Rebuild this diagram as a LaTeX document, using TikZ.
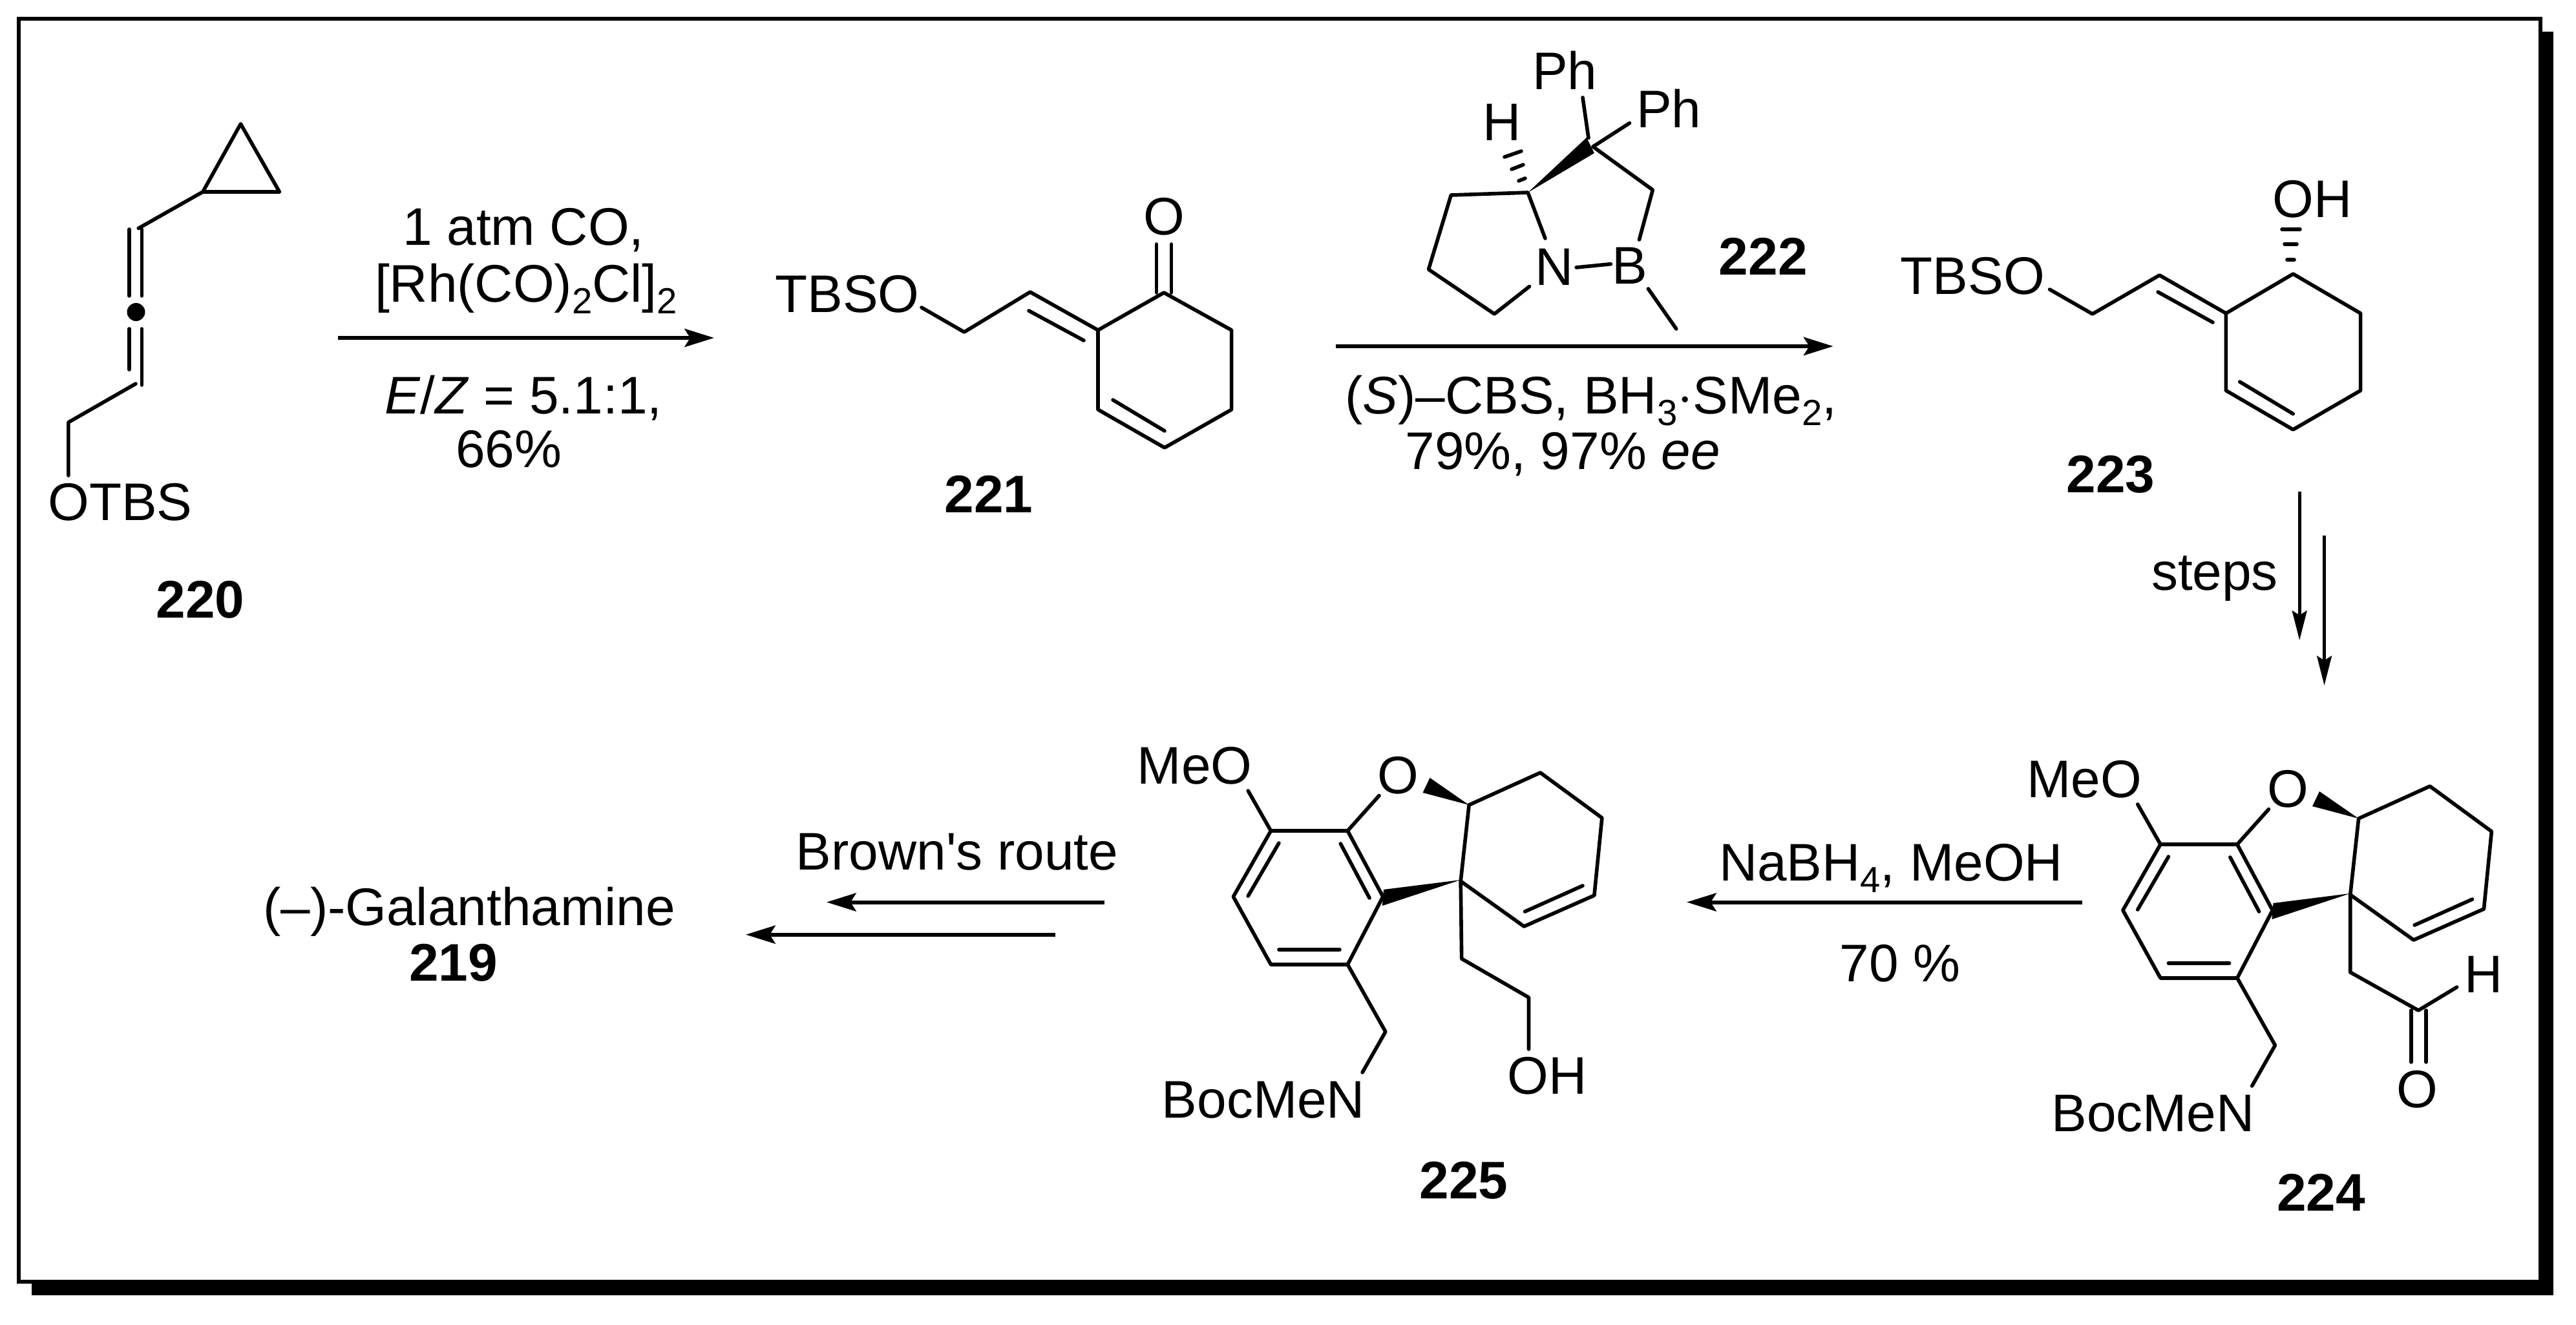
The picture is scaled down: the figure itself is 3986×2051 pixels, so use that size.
\documentclass[tikz,border=0pt]{standalone}
\usepackage{fontspec}
\setmainfont{Liberation Sans}[Ligatures=TeXOff]
\usetikzlibrary{arrows.meta}
\newcommand{\chemsub}[1]{\raisebox{-0.22em}{\fontsize{16}{16}\selectfont #1}}
\tikzset{
  bond/.style={line width=1.6pt,line cap=round,line join=round},
  hashbar/.style={line width=1.6pt,line cap=round},
  wedgefill/.style={fill=black,draw=none},
  lbl/.style={inner sep=0pt,anchor=base,font=\fontsize{23.3}{27}\selectfont,text=black},
  cmpd/.style={lbl,font=\fontsize{23.3}{27}\selectfont\bfseries},
  rxn/.style={line width=1.7pt,-{Stealth[length=13pt,width=8pt,inset=2.5pt]}},
  rxnthin/.style={line width=1.3pt,-{Stealth[length=13pt,width=6.5pt,inset=2pt]}}
}
% galanthamine core, shared by 224 and 225
\newcommand{\galcore}[1]{%
  \node[lbl] (#1meo) at (3231,1234) {MeO};
  \node[lbl] (#1o) at (3548,1249) {O};
  \node[lbl] (#1n) at (3338,1751) {BocMeN};
  \draw[bond] (3314,1245) -- (3349.5,1307);
  \draw[bond] (3349.5,1307) -- (3469,1307) -- (3524,1409) -- (3469,1514) -- (3349.5,1514) -- (3291,1409) -- cycle;
  \draw[bond] (3362,1326) -- (3314,1408);
  \draw[bond] (3458,1327) -- (3503,1411);
  \draw[bond] (3362,1491) -- (3456.6,1491);
  \draw[bond] (3469,1307) -- (3518,1252.6);
  \fill[wedgefill] (3658,1267) -- (3597,1225) -- (3586,1248) -- cycle;
  \draw[bond] (3645,1385) -- (3658,1267) -- (3769,1217) -- (3865,1287) -- (3853,1407) -- (3743.6,1455) -- cycle;
  \draw[bond] (3835,1392) -- (3745,1432);
  \fill[wedgefill] (3645,1383) -- (3525,1398) -- (3523,1423) -- cycle;
  \draw[bond] (3469,1514) -- (3528,1618) -- (3492,1681);
}
\begin{document}
\begin{tikzpicture}[x=0.01cm,y=-0.01cm]
\useasboundingbox (0,0) rectangle (3986,2051);
\fill[white] (0,0) rectangle (3986,2051);
% frame and shadow
\fill[black] (3931,49) rectangle (3951,2005);
\fill[black] (49,1984) rectangle (3951,2005);
\draw[line width=1.7pt,fill=white] (29,29) rectangle (3931,1984);

% 220
\draw[bond] (372.4,191.8) -- (432.4,297) -- (313.8,297) -- cycle;
\draw[bond] (313.8,297) -- (214.3,353.4);
\draw[bond] (200,355) -- (200,458);
\draw[bond] (219.4,355) -- (219.4,458);
\fill (210.5,483) ellipse (14 and 14);
\draw[bond] (200,509) -- (200,572);
\draw[bond] (219.4,509) -- (219.4,596);
\draw[bond] (210,594) -- (105.9,653.7) -- (105.9,736);
\node[lbl] (otbs) at (186,805) {OTBS};
\node[cmpd] (c220) at (310,956) {220};

% arrow 1
\coordinate (a1s) at (523,523);
\coordinate (a1e) at (1105,523);
\draw[rxn] (a1s) -- (a1e);
\node[lbl] (r1a) at (810,379) {1 atm CO,};
\node[lbl] (r1b) at (814,467) {[Rh(CO)\chemsub{2}Cl]\chemsub{2}};
\node[lbl] (r1c) at (810,640) {\textit{E}/\textit{Z} = 5.1:1,};
\node[lbl] (r1d) at (787,723) {66\%};

% 221
\node[lbl] (tbso1) at (1311,483) {TBSO};
\node[lbl] (o221) at (1801,363) {O};
\draw[bond] (1789.5,378) -- (1789.5,453);
\draw[bond] (1812.5,378) -- (1812.5,453);
\draw[bond] (1801,453) -- (1905.6,511) -- (1905.6,634) -- (1802,693) -- (1699,634) -- (1699,511) -- cycle;
\draw[bond] (1722,619) -- (1802,667);
\draw[bond] (1699,511) -- (1594,452) -- (1492,514) -- (1426,476);
\draw[bond] (1592,481) -- (1677,527);
\node[cmpd] (c221) at (1530,793) {221};

% everything measured with the right-hand crops
\begin{scope}[shift={(14,0)},x=0.00993cm]
% 222
\node[lbl] (ph1) at (2422,138) {Ph};
\node[lbl] (ph2) at (2584,197) {Ph};
\node[lbl] (h222) at (2324,217) {H};
\node[lbl] (n222) at (2405.6,441.5) {N};
\node[lbl] (b222) at (2523,439) {B};
\draw[bond] (2450,151) -- (2459,213.5);
\fill[wedgefill] (2364.6,298) -- (2456,213) -- (2468,237) -- cycle;
\draw[bond] (2523,190.5) -- (2466,227) -- (2559,294) -- (2538,371);
\draw[bond] (2391.6,369) -- (2364.6,298) -- (2245,302) -- (2210,417) -- (2312.5,486) -- (2367,443.5);
\draw[bond] (2440,414) -- (2493.6,408.7);
\draw[bond] (2552,447) -- (2595.6,509);
\node[cmpd] (c222) at (2731,425) {222};

% arrow 2
\coordinate (a2s) at (2066,536);
\coordinate (a2e) at (2840,536);
\draw[rxn] (a2s) -- (a2e);
\node[lbl] (r2a) at (2463,640.5) {(\textit{S})–CBS, BH\chemsub{3}$\cdot$SMe\chemsub{2},};
\node[lbl] (r2b) at (2419,726) {79\%, 97\% \textit{ee}};

% 223
\node[lbl] (tbso2) at (3057,455) {TBSO};
\node[lbl] (oh223) at (3586,336) {OH};
\draw[bond] (3556,424) -- (3661,485) -- (3661,604.5) -- (3556,665) -- (3451.5,604.5) -- (3451.5,485) -- cycle;
\draw[bond] (3473,591) -- (3556,640.6);
\draw[bond] (3451.5,485) -- (3348,426) -- (3243.6,486) -- (3177,448);
\draw[bond] (3345.6,452) -- (3431,499);
\node[cmpd] (c223) at (3272,762) {223};

% steps
\coordinate (a3s) at (3566,761);
\coordinate (a3e) at (3566,991);
\coordinate (a4s) at (3604.6,829);
\coordinate (a4e) at (3604.6,1061);
\draw[rxnthin] (a3s) -- (a3e);
\draw[rxnthin] (a4s) -- (a4e);
\node[lbl] (steps) at (3434,913) {steps};

% 224
\galcore{p}
\draw[bond] (3645,1385) -- (3645,1505) -- (3751,1564) -- (3811,1528);
\node[lbl] (h224) at (3853,1536) {H};
\draw[bond] (3740,1564) -- (3740,1644);
\draw[bond] (3763,1564) -- (3763,1644);
\node[lbl] (o224) at (3749,1714) {O};
\node[cmpd] (c224) at (3599.5,1874) {224};

% arrow 3
\coordinate (a5s) at (3228,1396.5);
\coordinate (a5e) at (2612,1396.5);
\draw[rxn] (a5s) -- (a5e);
\node[lbl] (r3a) at (2930,1363) {NaBH\chemsub{4}, MeOH};
\node[lbl] (r3b) at (2944,1519.5) {70 \%};

% 225
\begin{scope}[shift={(-1385,-21)}]
\galcore{q}
\end{scope}
\draw[bond] (2260,1364) -- (2261.5,1484) -- (2366,1544) -- (2366,1624);
\node[lbl] (oh225) at (2395,1693) {OH};
\node[cmpd] (c225) at (2265,1855.5) {225};
\end{scope}

% hashed bonds
\draw[hashbar] (2350,280) -- (2360,276);
\draw[hashbar] (2339,262) -- (2357,255);
\draw[hashbar] (2328,243) -- (2354,234);
\draw[hashbar] (3539,402) -- (3550,402);
\draw[hashbar] (3535,378) -- (3554,378);
\draw[hashbar] (3531,355) -- (3559,355);

% arrows 4
\coordinate (a6s) at (1709,1396.5);
\coordinate (a6e) at (1279,1396.5);
\coordinate (a7s) at (1633,1446.7);
\coordinate (a7e) at (1154,1446.7);
\draw[rxn] (a6s) -- (a6e);
\draw[rxn] (a7s) -- (a7e);
\node[lbl] (r4) at (1481,1346) {Brown's route};
\node[lbl] (gal) at (726,1432) {(–)-Galanthamine};
\node[cmpd] (c219) at (701.5,1518) {219};
\end{tikzpicture}
\end{document}
